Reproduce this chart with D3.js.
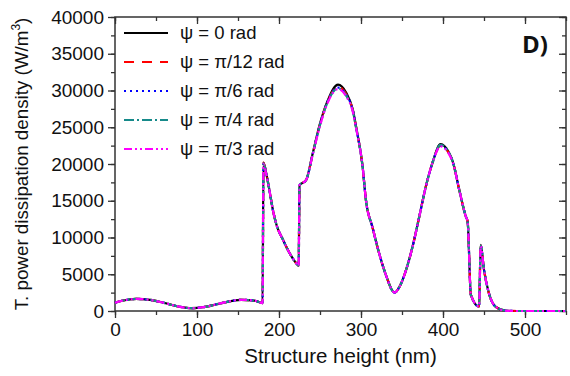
<!DOCTYPE html>
<html>
<head>
<meta charset="utf-8">
<script src="https://cdn.jsdelivr.net/npm/d3@7"></script>
<style>
  body { margin: 0; background: #fff; }
  text { font-family: "Liberation Sans", Arial, sans-serif; fill: #111; }
</style>
</head>
<body>
<svg id="chart" width="570" height="376"></svg>
<script>
// structure height (nm)
const height_nm = [0, 10, 26, 40, 60, 78, 93, 110, 130, 154, 170, 180,
  181, 185, 189, 193, 197, 205, 213, 221, 224,
  225, 233, 241, 250, 260, 272, 282, 290, 294, 302, 306, 314, 322, 331, 339, 341,
  347, 355, 363, 371, 379, 387, 397, 407, 412, 420, 428, 430,
  434, 444, 446, 450, 456, 464, 476, 490, 550]

// dissipation density for each psi (W/m3)
const psi_0 = [1130, 1430, 1640, 1560, 1100, 600, 380, 560, 1080, 1520, 1420, 1080,
  20200, 18400, 16000, 13500, 11700, 9650, 7850, 6500, 6150,
  17100, 17800, 21400, 25500, 28800, 30800, 29700, 27400, 25100, 19600, 15100, 11400, 7900, 4700, 2650, 2500,
  3300, 5600, 8800, 12800, 16900, 20100, 22700, 21600, 20300, 16400, 12800, 12200,
  2200, 600, 9000, 5600, 2400, 600, 60, 0, 0]
const psi_pi12 = [1130, 1430, 1640, 1560, 1100, 600, 380, 560, 1080, 1520, 1420, 1080,
  20200, 18400, 16000, 13500, 11700, 9650, 7850, 6500, 6150,
  17100, 17800, 21300, 25400, 28700, 30500, 29500, 27300, 25000, 19600, 15100, 11400, 7900, 4700, 2650, 2500,
  3300, 5600, 8800, 12800, 16900, 20100, 22500, 21500, 20300, 16400, 12800, 12200,
  2200, 600, 8900, 5600, 2400, 600, 60, 0, 0]
const psi_pi6 = [1130, 1430, 1640, 1560, 1100, 600, 380, 560, 1080, 1520, 1420, 1080,
  20100, 18400, 16000, 13500, 11700, 9650, 7850, 6500, 6150,
  17100, 17800, 21300, 25400, 28700, 30400, 29400, 27300, 25000, 19600, 15100, 11400, 7900, 4700, 2650, 2500,
  3300, 5600, 8800, 12800, 16900, 20100, 22500, 21500, 20300, 16400, 12800, 12200,
  2200, 600, 8900, 5600, 2400, 600, 60, 0, 0]
const psi_pi4 = [1130, 1430, 1640, 1560, 1100, 600, 380, 560, 1080, 1520, 1420, 1080,
  20100, 18400, 16000, 13500, 11700, 9650, 7850, 6500, 6150,
  17100, 17800, 21300, 25300, 28600, 30300, 29300, 27200, 24900, 19600, 15100, 11400, 7900, 4700, 2650, 2500,
  3300, 5600, 8800, 12800, 16900, 20100, 22600, 21600, 20300, 16400, 12800, 12200,
  2200, 600, 8900, 5600, 2400, 600, 60, 0, 0]
const psi_pi3 = [1130, 1430, 1640, 1560, 1100, 600, 380, 560, 1080, 1520, 1420, 1080,
  20000, 18300, 16000, 13500, 11700, 9650, 7850, 6500, 6150,
  17100, 17800, 21200, 25200, 28500, 30200, 29200, 27100, 24900, 19600, 15100, 11400, 7900, 4700, 2650, 2500,
  3300, 5600, 8800, 12800, 16900, 20100, 22400, 21400, 20200, 16400, 12800, 12200,
  2200, 600, 8800, 5600, 2400, 600, 60, 0, 0]

const series_names = ["\u03c8 = 0 rad", "\u03c8 = \u03c0/12 rad", "\u03c8 = \u03c0/6 rad", "\u03c8 = \u03c0/4 rad", "\u03c8 = \u03c0/3 rad"]
const series_vals = [psi_0, psi_pi12, psi_pi6, psi_pi4, psi_pi3]
const x_ticks = [0, 100, 200, 300, 400, 500]
const y_ticks = [0, 5000, 10000, 15000, 20000, 25000, 30000, 35000, 40000]

const colors = ["#000000", "#ff0000", "#0000ff", "#168a8a", "#ff00ff"]
const dashes = [null, "10,8", "2,4", "10,3,2,3", "8,3,2,3,2,3"]

const svg = d3.select("#chart")
const mLeft = 115, mRight = 566, mTop = 17, mBottom = 311

const x = d3.scaleLinear().domain([0, 550]).range([mLeft, mRight])
const y = d3.scaleLinear().domain([0, 40000]).range([mBottom, mTop])

//axes: bottom/left ticks out, top/right ticks in
const minorX = d3.range(0, 551, 50)
const minorY = d3.range(0, 40001, 2500)

svg.append("g").attr("transform", `translate(0,${mBottom})`)
  .call(d3.axisBottom(x).tickValues(minorX).tickSize(4).tickFormat(""))
svg.append("g").attr("transform", `translate(0,${mBottom})`)
  .call(d3.axisBottom(x).tickValues(x_ticks).tickSize(7).tickPadding(5).tickFormat(d3.format("d")))
svg.append("g").attr("transform", `translate(${mLeft},0)`)
  .call(d3.axisLeft(y).tickValues(minorY).tickSize(4).tickFormat(""))
svg.append("g").attr("transform", `translate(${mLeft},0)`)
  .call(d3.axisLeft(y).tickValues(y_ticks).tickSize(7).tickPadding(4).tickFormat(d3.format("d")))
svg.append("g").attr("transform", `translate(0,${mTop})`)
  .call(d3.axisBottom(x).tickValues(minorX).tickSize(4).tickFormat(""))
svg.append("g").attr("transform", `translate(0,${mTop})`)
  .call(d3.axisBottom(x).tickValues(x_ticks).tickSize(7).tickFormat(""))
svg.append("g").attr("transform", `translate(${mRight},0)`)
  .call(d3.axisLeft(y).tickValues(minorY).tickSize(4).tickFormat(""))
svg.append("g").attr("transform", `translate(${mRight},0)`)
  .call(d3.axisLeft(y).tickValues(y_ticks).tickSize(7).tickFormat(""))

svg.selectAll(".domain").remove()
svg.selectAll(".tick line").attr("stroke", "#333").attr("stroke-width", 1.3)
svg.selectAll(".tick text").style("font-size", "19px").attr("fill", "#111")

svg.append("rect")
  .attr("x", mLeft).attr("y", mTop)
  .attr("width", mRight - mLeft).attr("height", mBottom - mTop)
  .attr("fill", "none").attr("stroke", "#333").attr("stroke-width", 1.5)

// curves
const line = d3.line()
  .x((d, i) => x(height_nm[i]))
  .y(d => y(d))
  .curve(d3.curveMonotoneX)

svg.append("g")
  .selectAll("path")
  .data(series_vals)
  .join("path")
  .attr("d", d => line(d))
  .attr("fill", "none")
  .attr("stroke", (d, i) => colors[i])
  .attr("stroke-width", 2.2)
  .attr("stroke-dasharray", (d, i) => dashes[i])

// legend
const leg = svg.append("g")
leg.selectAll("line")
  .data(series_names)
  .join("line")
  .attr("x1", 124).attr("x2", 168)
  .attr("y1", (d, i) => 33 + i * 29)
  .attr("y2", (d, i) => 33 + i * 29)
  .attr("stroke", (d, i) => colors[i])
  .attr("stroke-width", 2.2)
  .attr("stroke-dasharray", (d, i) => dashes[i])
leg.selectAll("text")
  .data(series_names)
  .join("text")
  .attr("x", 180)
  .attr("y", (d, i) => 39 + i * 29)
  .style("font-size", "18.5px")
  .text(d => d)

svg.append("text")
  .attr("x", 548).attr("y", 53)
  .attr("text-anchor", "end")
  .style("font-family", "'Open Sans', sans-serif")
  .style("font-weight", "bold")
  .style("font-size", "24px")
  .attr("fill", "#000")
  .text("D)")

// axis titles
svg.append("text")
  .attr("x", (mLeft + mRight) / 2).attr("y", 363)
  .attr("text-anchor", "middle")
  .style("font-size", "20.5px")
  .text("Structure height (nm)")

const yt = svg.append("text")
  .attr("transform", `translate(28,${(mTop + mBottom) / 2}) rotate(-90)`)
  .attr("text-anchor", "middle")
  .style("font-size", "18.8px")
yt.append("tspan").text("T. power dissipation density (W/m")
yt.append("tspan").attr("dy", -8).style("font-size", "12px").text("3")
yt.append("tspan").attr("dy", 8).text(")")
</script>
</body>
</html>
